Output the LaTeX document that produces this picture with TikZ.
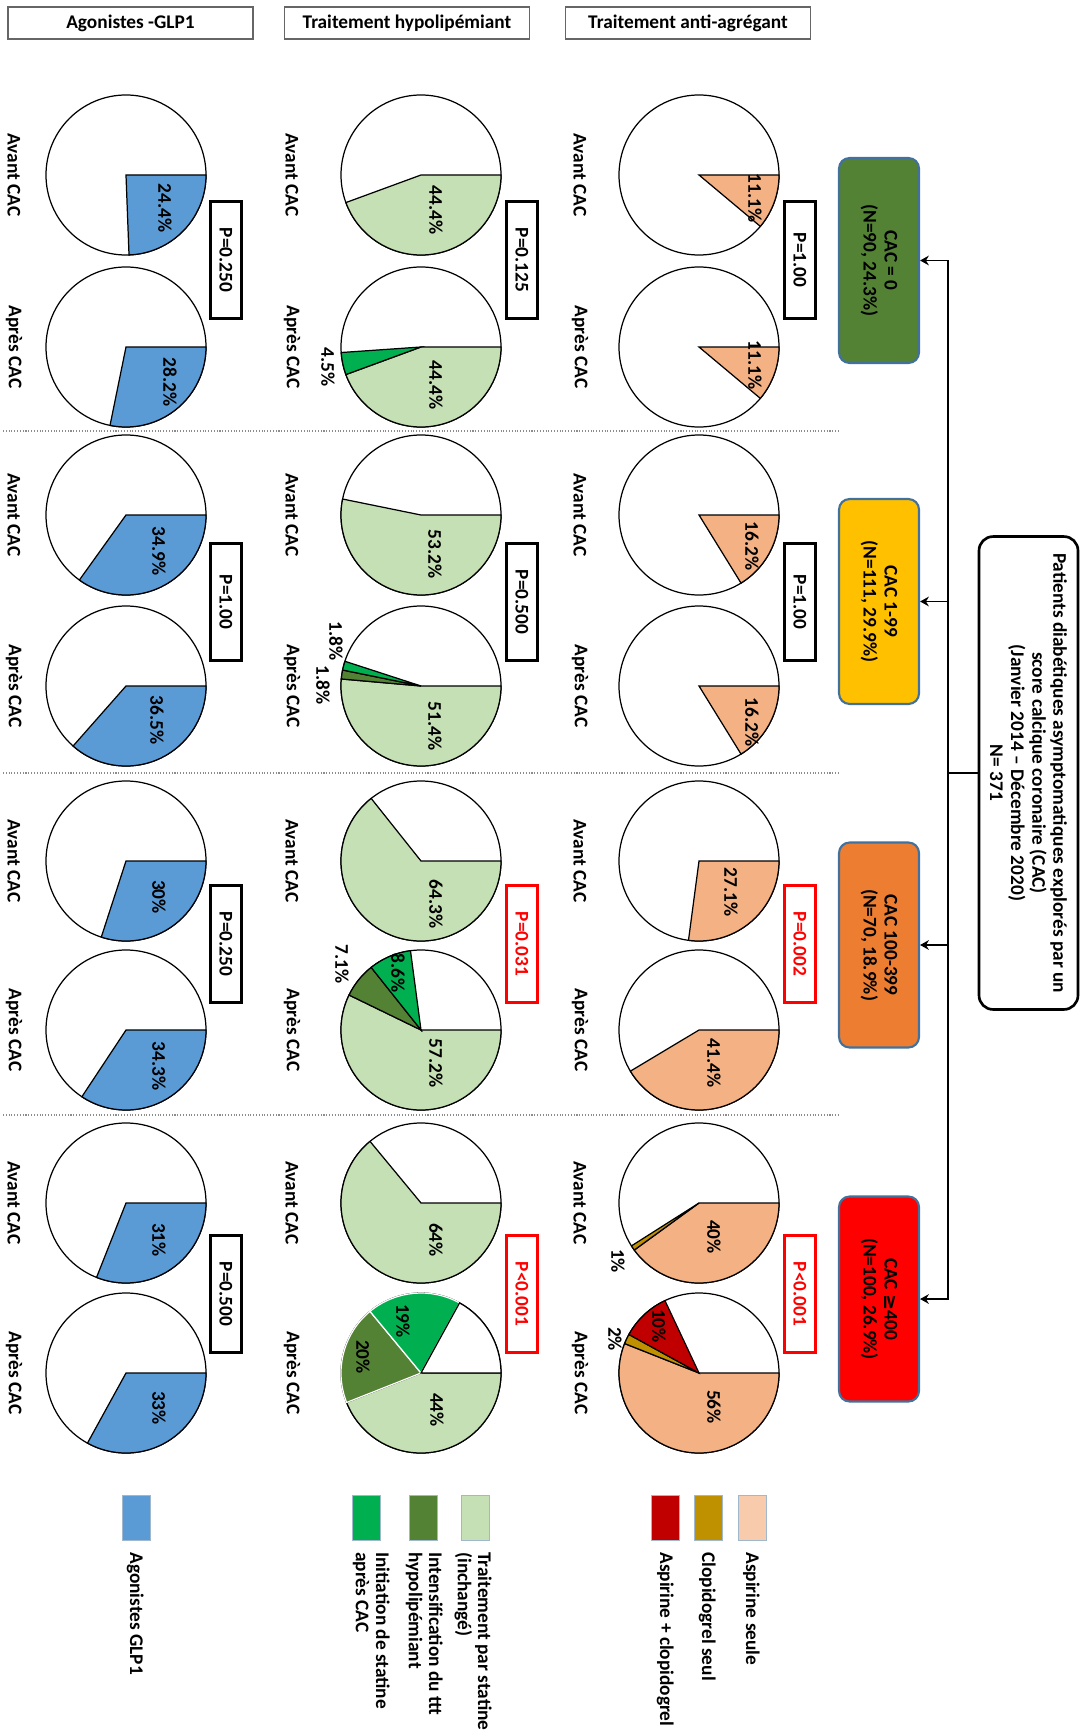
\documentclass[tikz,border=0pt]{standalone}
\usepackage{fontspec}
\setmainfont{Carlito}
\newfontfamily\symb{DejaVu Sans}
\usetikzlibrary{arrows.meta}
\definecolor{glp}{HTML}{5B9BD5}
\definecolor{statin}{HTML}{C5E0B4}
\definecolor{intens}{HTML}{548235}
\definecolor{init}{HTML}{00B050}
\definecolor{asp}{HTML}{F4B183}
\definecolor{aspkey}{HTML}{F8CBAD}
\definecolor{clop}{HTML}{BF9000}
\definecolor{dual}{HTML}{C00000}
\definecolor{cacA}{HTML}{548235}
\definecolor{cacB}{HTML}{FFC000}
\definecolor{cacC}{HTML}{ED7D31}
\definecolor{cacD}{HTML}{FF0000}
\definecolor{catline}{HTML}{41719C}

\begin{document}
\begin{tikzpicture}[x=.02cm,y=-.02cm,font=\bfseries\fontsize{11}{12}\selectfont,
 head/.style={draw=black!60,line width=.9pt,minimum width=4.9cm,minimum height=.64cm,inner sep=2pt},
 lab/.style={rotate=-90,inner sep=1pt},
 pval/.style={lab,minimum width=2.34cm,minimum height=.62cm},
 cat/.style={lab,draw=catline,line width=1.2pt,rounded corners=6pt,minimum width=4.1cm,minimum height=1.6cm,align=center},
 slice/.style={draw=black,line width=.7pt},
 wire/.style={draw=black,line width=1.1pt},
 flow/.style={wire,-{Stealth[length=5pt,width=5.5pt]}},
 sep/.style={draw=black!45,densely dotted,line width=.6pt},
 key/.style={draw=catline!50,line width=.5pt},
 keytext/.style={lab,anchor=north west,inner sep=0pt,align=left,font=\bfseries\fontsize{11}{11.5}\selectfont}]
\path[use as bounding box,fill=white] (0,0) rectangle (1079,1733);
\node[head] (hglp) at (130.5,23) {Agonistes -GLP1};
\node[head] (hhyp) at (407,23) {Traitement hypolipémiant};
\node[head] (hant) at (688,23) {Traitement anti-agrégant};
% pie centres: g = GLP1, h = hypolipemiant, a = anti-agregant; a/p = avant/apres
\foreach \col/\x in {g/126,h/421,a/699}
 \foreach \ya/\yp [count=\row] in {175/347,515/686,861/1030,1203/1373} {
  \coordinate (\col\row a) at (\x,\ya);
  \coordinate (\col\row p) at (\x,\yp);
  \draw[slice,fill=white] (\x,\ya) circle[radius=80] (\x,\yp) circle[radius=80];}
\foreach \pc/\from/\to/\fc/\ec in {g1a/0/87.84/glp/black,g1p/0/101.52/glp/black,
 g2a/0/125.64/glp/black,g2p/0/131.4/glp/black,g3a/0/108/glp/black,g3p/0/123.48/glp/black,
 g4a/0/111.6/glp/black,g4p/0/118.8/glp/black,
 h1a/0/159.84/statin/black,h1p/0/159.84/statin/black,h1p/159.84/176.04/init/black,
 h2a/0/191.52/statin/black,h2p/0/185.04/statin/black,h2p/185.04/191.52/intens/black,h2p/191.52/198/init/black,
 h3a/0/231.48/statin/black,h3p/0/205.92/statin/black,h3p/205.92/231.48/intens/black,h3p/231.48/262.44/init/black,
 h4a/0/230.4/statin/black,h4p/0/158.4/statin/black,h4p/158.4/230.4/intens/white,h4p/230.4/298.8/init/white,
 h4p/298.8/360/white/black,
 a1a/0/39.96/asp/black,a1p/0/39.96/asp/black,a2a/0/58.32/asp/black,a2p/0/58.32/asp/black,
 a3a/0/97.56/asp/black,a3p/0/149.04/asp/black,a4a/0/144/asp/black,a4a/144/147.6/clop/black,
 a4p/0/201.6/asp/black,a4p/201.6/208.8/clop/black,a4p/208.8/244.8/dual/black}
 \filldraw[slice,fill=\fc,draw=\ec] (\pc) -- ++(\from:80) arc[start angle=\from,end angle=\to,radius=80] -- cycle;
\foreach \x/\y/\v [count=\i] in {165/208/24.4,170/382/28.2,436/210/44.4,436/385/44.4,328/367/4.5,
 755/198/11.1,755/365/11.1,159/551/34.9,157/720/36.5,435/554/53.2,435/726/51.4,336/641/1.8,
 323/685/1.8,752/546/16.2,752/722/16.2,159/897/30,159/1066/34.3,436/904/64.3,436/1063/57.2,
 398/973/8.6,342/964/7.1,731/892/27.1,714/1063/41.4,159/1240/31,159/1408/33,436/1240/64,
 437/1410/44,363/1357/20,403/1321/19,714/1237/40,618/1261/1,714/1407/56,659/1326/10,615/1339/2}
 \node[lab] (pct\i) at (\x,\y) {\v\%};
\foreach \x in {14,292,580}
 \foreach \ya/\yp [count=\row] in {175/347,515/686,861/1030,1203/1373} {
  \node[lab] (av\x-\row) at (\x,\ya) {Avant CAC};
  \node[lab] (ap\x-\row) at (\x,\yp) {Après CAC};}
\foreach \x/\y/\v/\c/\w [count=\i] in {226/260/{P=0.250}/black/1.5pt,522/260/{P=0.125}/black/1.5pt,
 800/260/{P=1.00}/black/1.5pt,226/602/{P=1.00}/black/1.5pt,522/602/{P=0.500}/black/1.5pt,
 800/602/{P=1.00}/black/1.5pt,226/944/{P=0.250}/black/1.5pt,522/944/{P=0.031}/red/1.3pt,
 800/944/{P=0.002}/red/1.3pt,226/1294/{P=0.500}/black/1.5pt,522/1294/{P<0.001}/red/1.3pt,
 800/1294/{P<0.001}/red/1.3pt}
 \node[pval,draw=\c,text=\c,line width=\w] (pv\i) at (\x,\y) {\v};
\foreach \y in {431,773,1115}
 \draw[sep] (3,\y) -- (839,\y);
\node[cat,fill=cacA] (cat1) at (879,260.5) {CAC = 0\\(N=90, 24.3\%)};
\node[cat,fill=cacB] (cat2) at (879,601.5) {CAC 1-99\\(N=111, 29.9\%)};
\node[cat,fill=cacC] (cat3) at (879,945) {CAC 100-399\\(N=70, 18.9\%)};
\node[cat,fill=cacD] (cat4) at (879,1299) {CAC {\symb ≥}400\\(N=100, 26.9\%)};
\node[lab,draw,line width=1.5pt,rounded corners=8pt,minimum width=9.46cm,minimum height=1.98cm,
 align=center,inner sep=2pt] (pat) at (1028.5,773)
 {Patients diabétiques asymptomatiques explorés par un\\score calcique coronaire (CAC)\\
 (Janvier 2014 – Décembre 2020)\\N= 371};
\coordinate (trunk) at (948,773);
\draw[wire] (pat) -- (trunk);
\draw[wire,line cap=rect] (cat1 -| trunk) -- (cat4 -| trunk);
\foreach \k in {1,...,4}
 \draw[flow] (cat\k -| trunk) -- (cat\k);
% legend
\foreach \x/\c in {122/glp,352/init,409/intens,461/statin,651/dual,694/clop,738/aspkey}
 \draw[key,fill=\c] (\x,1495) rectangle ++(28,45);
\foreach \x/\v [count=\i] in {144/{Agonistes GLP1},492/{Traitement par statine\\(inchangé)},
 443/{Intensification du ttt\\hypolipémiant},390/{Initiation de statine\\après CAC},
 674/{Aspirine + clopidogrel},716/{Clopidogrel seul},760/{Aspirine seule}}
 \node[keytext] (key\i) at (\x,1552) {\v};
\end{tikzpicture}
\end{document}
